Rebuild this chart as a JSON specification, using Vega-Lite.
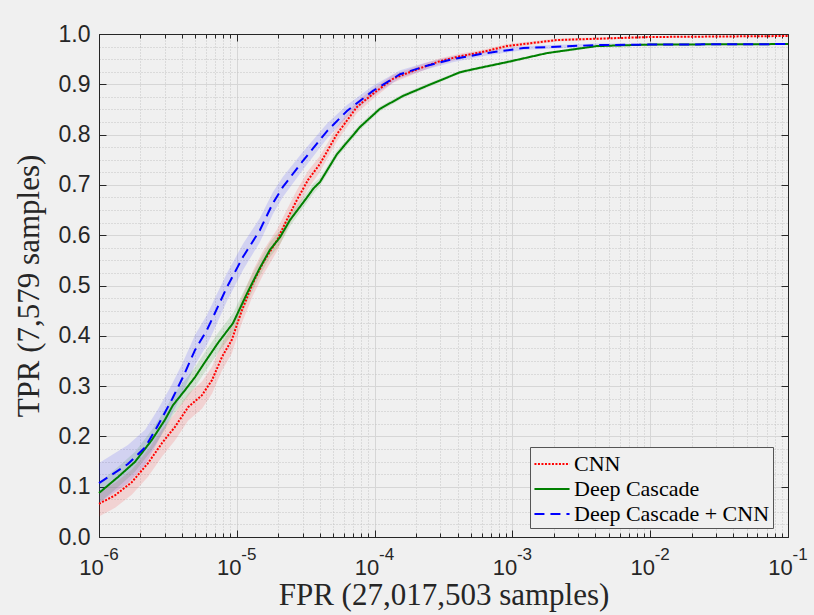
{
  "$schema": "https://vega.github.io/schema/vega-lite/v6.json",
  "width": 689,
  "height": 503,
  "autosize": {"type": "none"},
  "padding": {"left": 99, "top": 34, "right": 26, "bottom": 78},
  "background": "#f0f0f0",
  "config": {
    "view": {"stroke": null, "fill": "#f0f0f0"},
    "axis": {
      "labelFont": "Liberation Sans",
      "labelColor": "#262626",
      "tickColor": "#262626",
      "domainColor": "#262626",
      "titleFont": "Liberation Serif",
      "titleFontWeight": "normal",
      "titleColor": "#262626",
      "labelFlush": false,
      "labelOverlap": false
    }
  },
  "data": {
    "values": [
      {"series": "CNN", "fpr": 1e-6, "tpr": 0.066, "lo": 0.041, "hi": 0.091},
      {"series": "CNN", "fpr": 1.31e-6, "tpr": 0.083, "lo": 0.058, "hi": 0.108},
      {"series": "CNN", "fpr": 1.73e-6, "tpr": 0.109, "lo": 0.084, "hi": 0.134},
      {"series": "CNN", "fpr": 2.27e-6, "tpr": 0.147, "lo": 0.120, "hi": 0.174},
      {"series": "CNN", "fpr": 2.87e-6, "tpr": 0.187, "lo": 0.160, "hi": 0.214},
      {"series": "CNN", "fpr": 3.56e-6, "tpr": 0.219, "lo": 0.192, "hi": 0.246},
      {"series": "CNN", "fpr": 4.43e-6, "tpr": 0.258, "lo": 0.231, "hi": 0.285},
      {"series": "CNN", "fpr": 5.59e-6, "tpr": 0.282, "lo": 0.255, "hi": 0.309},
      {"series": "CNN", "fpr": 6.61e-6, "tpr": 0.312, "lo": 0.285, "hi": 0.339},
      {"series": "CNN", "fpr": 7.81e-6, "tpr": 0.358, "lo": 0.331, "hi": 0.385},
      {"series": "CNN", "fpr": 9.2e-6, "tpr": 0.392, "lo": 0.365, "hi": 0.419},
      {"series": "CNN", "fpr": 1.09e-5, "tpr": 0.451, "lo": 0.426, "hi": 0.476},
      {"series": "CNN", "fpr": 1.31e-5, "tpr": 0.505, "lo": 0.480, "hi": 0.530},
      {"series": "CNN", "fpr": 1.55e-5, "tpr": 0.545, "lo": 0.521, "hi": 0.569},
      {"series": "CNN", "fpr": 1.96e-5, "tpr": 0.590, "lo": 0.568, "hi": 0.612},
      {"series": "CNN", "fpr": 2.3e-5, "tpr": 0.630, "lo": 0.610, "hi": 0.650},
      {"series": "CNN", "fpr": 2.73e-5, "tpr": 0.670, "lo": 0.650, "hi": 0.690},
      {"series": "CNN", "fpr": 3.29e-5, "tpr": 0.710, "lo": 0.692, "hi": 0.728},
      {"series": "CNN", "fpr": 4.02e-5, "tpr": 0.742, "lo": 0.726, "hi": 0.758},
      {"series": "CNN", "fpr": 5.33e-5, "tpr": 0.801, "lo": 0.787, "hi": 0.815},
      {"series": "CNN", "fpr": 7.45e-5, "tpr": 0.855, "lo": 0.843, "hi": 0.867},
      {"series": "CNN", "fpr": 9.73e-5, "tpr": 0.881, "lo": 0.871, "hi": 0.891},
      {"series": "CNN", "fpr": 1.36e-4, "tpr": 0.911, "lo": 0.903, "hi": 0.919},
      {"series": "CNN", "fpr": 2.04e-4, "tpr": 0.930, "lo": 0.923, "hi": 0.937},
      {"series": "CNN", "fpr": 2.98e-4, "tpr": 0.946, "lo": 0.940, "hi": 0.952},
      {"series": "CNN", "fpr": 4.2e-4, "tpr": 0.956, "lo": 0.951, "hi": 0.961},
      {"series": "CNN", "fpr": 6.0e-4, "tpr": 0.964, "lo": 0.960, "hi": 0.968},
      {"series": "CNN", "fpr": 9.1e-4, "tpr": 0.976, "lo": 0.972, "hi": 0.980},
      {"series": "CNN", "fpr": 2.1e-3, "tpr": 0.988, "lo": 0.985, "hi": 0.991},
      {"series": "CNN", "fpr": 1e-2, "tpr": 0.994, "lo": 0.992, "hi": 0.996},
      {"series": "CNN", "fpr": 1e-1, "tpr": 0.996, "lo": 0.994, "hi": 0.998},

      {"series": "Deep Cascade", "fpr": 1e-6, "tpr": 0.0875, "lo": 0.0675, "hi": 0.1075},
      {"series": "Deep Cascade", "fpr": 1.37e-6, "tpr": 0.119, "lo": 0.099, "hi": 0.139},
      {"series": "Deep Cascade", "fpr": 1.82e-6, "tpr": 0.149, "lo": 0.129, "hi": 0.169},
      {"series": "Deep Cascade", "fpr": 2.42e-6, "tpr": 0.193, "lo": 0.173, "hi": 0.213},
      {"series": "Deep Cascade", "fpr": 3.01e-6, "tpr": 0.233, "lo": 0.213, "hi": 0.253},
      {"series": "Deep Cascade", "fpr": 3.44e-6, "tpr": 0.262, "lo": 0.242, "hi": 0.282},
      {"series": "Deep Cascade", "fpr": 4.21e-6, "tpr": 0.292, "lo": 0.272, "hi": 0.312},
      {"series": "Deep Cascade", "fpr": 4.98e-6, "tpr": 0.318, "lo": 0.298, "hi": 0.338},
      {"series": "Deep Cascade", "fpr": 5.88e-6, "tpr": 0.348, "lo": 0.328, "hi": 0.368},
      {"series": "Deep Cascade", "fpr": 7.31e-6, "tpr": 0.386, "lo": 0.366, "hi": 0.406},
      {"series": "Deep Cascade", "fpr": 9.38e-6, "tpr": 0.425, "lo": 0.405, "hi": 0.445},
      {"series": "Deep Cascade", "fpr": 1.19e-5, "tpr": 0.485, "lo": 0.467, "hi": 0.503},
      {"series": "Deep Cascade", "fpr": 1.47e-5, "tpr": 0.535, "lo": 0.519, "hi": 0.551},
      {"series": "Deep Cascade", "fpr": 1.74e-5, "tpr": 0.571, "lo": 0.556, "hi": 0.586},
      {"series": "Deep Cascade", "fpr": 2.06e-5, "tpr": 0.596, "lo": 0.582, "hi": 0.610},
      {"series": "Deep Cascade", "fpr": 2.43e-5, "tpr": 0.630, "lo": 0.618, "hi": 0.642},
      {"series": "Deep Cascade", "fpr": 3.23e-5, "tpr": 0.675, "lo": 0.665, "hi": 0.685},
      {"series": "Deep Cascade", "fpr": 3.6e-5, "tpr": 0.693, "lo": 0.683, "hi": 0.703},
      {"series": "Deep Cascade", "fpr": 4.02e-5, "tpr": 0.706, "lo": 0.698, "hi": 0.714},
      {"series": "Deep Cascade", "fpr": 5.33e-5, "tpr": 0.761, "lo": 0.754, "hi": 0.768},
      {"series": "Deep Cascade", "fpr": 7.83e-5, "tpr": 0.815, "lo": 0.809, "hi": 0.821},
      {"series": "Deep Cascade", "fpr": 1.09e-4, "tpr": 0.851, "lo": 0.846, "hi": 0.856},
      {"series": "Deep Cascade", "fpr": 1.61e-4, "tpr": 0.877, "lo": 0.873, "hi": 0.881},
      {"series": "Deep Cascade", "fpr": 2.4e-4, "tpr": 0.897, "lo": 0.893, "hi": 0.901},
      {"series": "Deep Cascade", "fpr": 4.17e-4, "tpr": 0.924, "lo": 0.921, "hi": 0.927},
      {"series": "Deep Cascade", "fpr": 5.2e-4, "tpr": 0.930, "lo": 0.927, "hi": 0.933},
      {"series": "Deep Cascade", "fpr": 9.1e-4, "tpr": 0.944, "lo": 0.941, "hi": 0.947},
      {"series": "Deep Cascade", "fpr": 1.78e-3, "tpr": 0.962, "lo": 0.960, "hi": 0.964},
      {"series": "Deep Cascade", "fpr": 4.1e-3, "tpr": 0.976, "lo": 0.974, "hi": 0.978},
      {"series": "Deep Cascade", "fpr": 1e-2, "tpr": 0.979, "lo": 0.978, "hi": 0.980},
      {"series": "Deep Cascade", "fpr": 1e-1, "tpr": 0.980, "lo": 0.979, "hi": 0.981},

      {"series": "Deep Cascade + CNN", "fpr": 1e-6, "tpr": 0.107, "lo": 0.067, "hi": 0.147},
      {"series": "Deep Cascade + CNN", "fpr": 1.62e-6, "tpr": 0.145, "lo": 0.107, "hi": 0.183},
      {"series": "Deep Cascade + CNN", "fpr": 2.16e-6, "tpr": 0.178, "lo": 0.143, "hi": 0.213},
      {"series": "Deep Cascade + CNN", "fpr": 2.68e-6, "tpr": 0.222, "lo": 0.190, "hi": 0.254},
      {"series": "Deep Cascade + CNN", "fpr": 3.39e-6, "tpr": 0.274, "lo": 0.244, "hi": 0.304},
      {"series": "Deep Cascade + CNN", "fpr": 4.07e-6, "tpr": 0.318, "lo": 0.288, "hi": 0.348},
      {"series": "Deep Cascade + CNN", "fpr": 4.98e-6, "tpr": 0.372, "lo": 0.342, "hi": 0.402},
      {"series": "Deep Cascade + CNN", "fpr": 6.08e-6, "tpr": 0.412, "lo": 0.382, "hi": 0.442},
      {"series": "Deep Cascade + CNN", "fpr": 6.72e-6, "tpr": 0.437, "lo": 0.407, "hi": 0.467},
      {"series": "Deep Cascade + CNN", "fpr": 8.49e-6, "tpr": 0.497, "lo": 0.469, "hi": 0.525},
      {"series": "Deep Cascade + CNN", "fpr": 1.11e-5, "tpr": 0.557, "lo": 0.531, "hi": 0.583},
      {"series": "Deep Cascade + CNN", "fpr": 1.47e-5, "tpr": 0.610, "lo": 0.586, "hi": 0.634},
      {"series": "Deep Cascade + CNN", "fpr": 1.83e-5, "tpr": 0.664, "lo": 0.642, "hi": 0.686},
      {"series": "Deep Cascade + CNN", "fpr": 2.16e-5, "tpr": 0.696, "lo": 0.676, "hi": 0.716},
      {"series": "Deep Cascade + CNN", "fpr": 3.02e-5, "tpr": 0.748, "lo": 0.730, "hi": 0.766},
      {"series": "Deep Cascade + CNN", "fpr": 4.52e-5, "tpr": 0.807, "lo": 0.792, "hi": 0.822},
      {"series": "Deep Cascade + CNN", "fpr": 6.3e-5, "tpr": 0.847, "lo": 0.835, "hi": 0.859},
      {"series": "Deep Cascade + CNN", "fpr": 9.73e-5, "tpr": 0.887, "lo": 0.877, "hi": 0.897},
      {"series": "Deep Cascade + CNN", "fpr": 1.53e-4, "tpr": 0.920, "lo": 0.912, "hi": 0.928},
      {"series": "Deep Cascade + CNN", "fpr": 2.4e-4, "tpr": 0.937, "lo": 0.930, "hi": 0.944},
      {"series": "Deep Cascade + CNN", "fpr": 3.7e-4, "tpr": 0.950, "lo": 0.944, "hi": 0.956},
      {"series": "Deep Cascade + CNN", "fpr": 6.1e-4, "tpr": 0.961, "lo": 0.956, "hi": 0.966},
      {"series": "Deep Cascade + CNN", "fpr": 1.2e-3, "tpr": 0.972, "lo": 0.968, "hi": 0.976},
      {"series": "Deep Cascade + CNN", "fpr": 4.1e-3, "tpr": 0.978, "lo": 0.975, "hi": 0.981},
      {"series": "Deep Cascade + CNN", "fpr": 1e-2, "tpr": 0.979, "lo": 0.977, "hi": 0.981},
      {"series": "Deep Cascade + CNN", "fpr": 1e-1, "tpr": 0.980, "lo": 0.978, "hi": 0.982}
    ]
  },
  "layer": [
    {
      "transform": [{"filter": "datum.series != 'Deep Cascade + CNN'"}],
      "mark": {"type": "area", "fillOpacity": 0.12},
      "encoding": {
        "x": {
          "field": "fpr", "type": "quantitative",
          "scale": {"type": "log", "domain": [1e-6, 0.1]},
          "axis": {
            "orient": "bottom", "title": null, "labels": false, "domain": false,
            "ticks": true, "tickSize": -4, "grid": true, "gridColor": "#c4c4c4", "gridDash": [1, 2], "gridWidth": 1,
            "values": [2e-6, 3e-6, 4e-6, 5e-6, 6e-6, 7e-6, 8e-6, 9e-6, 2e-5, 3e-5, 4e-5, 5e-5, 6e-5, 7e-5, 8e-5, 9e-5, 2e-4, 3e-4, 4e-4, 5e-4, 6e-4, 7e-4, 8e-4, 9e-4, 2e-3, 3e-3, 4e-3, 5e-3, 6e-3, 7e-3, 8e-3, 9e-3, 2e-2, 3e-2, 4e-2, 5e-2, 6e-2, 7e-2, 8e-2, 9e-2]
          }
        },
        "y": {
          "field": "lo", "type": "quantitative",
          "scale": {"domain": [0, 1]},
          "axis": {
            "orient": "left", "title": null, "labels": false, "domain": false, "ticks": false,
            "grid": true, "gridColor": "#c4c4c4", "gridDash": [1, 2], "gridWidth": 1,
            "values": [0.025, 0.05, 0.075, 0.125, 0.15, 0.175, 0.225, 0.25, 0.275, 0.325, 0.35, 0.375, 0.425, 0.45, 0.475, 0.525, 0.55, 0.575, 0.625, 0.65, 0.675, 0.725, 0.75, 0.775, 0.825, 0.85, 0.875, 0.925, 0.95, 0.975]
          }
        },
        "y2": {"field": "hi"},
        "fill": {
          "field": "series", "type": "nominal",
          "scale": {"range": ["#ff0000", "#008000", "#0000ff"]},
          "legend": null
        }
      }
    },
    {
      "transform": [{"filter": "datum.series == 'Deep Cascade + CNN'"}],
      "mark": {"type": "area", "fillOpacity": 0.12},
      "encoding": {
        "x": {
          "field": "fpr", "type": "quantitative",
          "axis": {
            "orient": "top", "title": null, "labels": false, "domain": false, "grid": false,
            "ticks": true, "tickSize": -4,
            "values": [2e-6, 3e-6, 4e-6, 5e-6, 6e-6, 7e-6, 8e-6, 9e-6, 2e-5, 3e-5, 4e-5, 5e-5, 6e-5, 7e-5, 8e-5, 9e-5, 2e-4, 3e-4, 4e-4, 5e-4, 6e-4, 7e-4, 8e-4, 9e-4, 2e-3, 3e-3, 4e-3, 5e-3, 6e-3, 7e-3, 8e-3, 9e-3, 2e-2, 3e-2, 4e-2, 5e-2, 6e-2, 7e-2, 8e-2, 9e-2]
          }
        },
        "y": {
          "field": "lo", "type": "quantitative",
          "axis": {
            "orient": "right", "title": null, "labels": false, "domain": true, "grid": false,
            "ticks": true, "tickSize": -7,
            "values": [0, 0.1, 0.2, 0.3, 0.4, 0.5, 0.6, 0.7, 0.8, 0.9, 1]
          }
        },
        "y2": {"field": "hi"},
        "fill": {"field": "series", "type": "nominal", "legend": null}
      }
    },
    {
      "transform": [{"filter": "datum.series == 'CNN'"}],
      "mark": {"type": "line", "strokeWidth": 2},
      "encoding": {
        "x": {
          "field": "fpr", "type": "quantitative",
          "axis": {
            "orient": "bottom", "title": "FPR (27,017,503 samples)", "titleFontSize": 31, "titlePadding": 2,
            "domain": true, "ticks": true, "tickSize": -7, "grid": true, "gridColor": "#d6d6d6", "gridWidth": 1,
            "labelFontSize": 22, "labelPadding": 44, "labelBaseline": "alphabetic", "labelAlign": "center", "labelOffset": -8,
            "labelExpr": "'10'",
            "values": [1e-6, 1e-5, 1e-4, 1e-3, 1e-2, 1e-1]
          }
        },
        "y": {
          "field": "tpr", "type": "quantitative",
          "axis": {
            "orient": "left", "title": "TPR (7,579 samples)", "titleFontSize": 31, "titlePadding": 13,
            "domain": true, "ticks": true, "tickSize": -7, "grid": true, "gridColor": "#d6d6d6", "gridWidth": 1,
            "labelFontSize": 23, "labelPadding": 16, "format": ".1f",
            "values": [0, 0.1, 0.2, 0.3, 0.4, 0.5, 0.6, 0.7, 0.8, 0.9, 1]
          }
        },
        "color": {
          "field": "series", "type": "nominal",
          "scale": {"domain": ["CNN", "Deep Cascade", "Deep Cascade + CNN"], "range": ["#ff0000", "#008000", "#0000ff"]},
          "legend": {
            "title": null, "orient": "none", "legendX": 431, "legendY": 413,
            "labelFont": "Liberation Serif", "labelFontSize": 22, "labelColor": "#000000", "labelLimit": 400, "labelOffset": 8,
            "symbolType": "M-1.35,0H1.35", "symbolSize": 676, "symbolStrokeWidth": 2, "symbolOffset": 5,
            "strokeColor": "#555555", "fillColor": "#f0f0f0", "padding": 3, "rowPadding": 0
          }
        },
        "strokeDash": {
          "field": "series", "type": "nominal",
          "scale": {"domain": ["CNN", "Deep Cascade", "Deep Cascade + CNN"], "range": [[2, 1.5], [1, 0], [10, 6]]},
          "legend": {
            "title": null, "orient": "none", "legendX": 431, "legendY": 413,
            "labelFont": "Liberation Serif", "labelFontSize": 22, "labelColor": "#000000", "labelLimit": 400, "labelOffset": 8,
            "symbolType": "M-1.35,0H1.35", "symbolSize": 676, "symbolStrokeWidth": 2, "symbolOffset": 5,
            "strokeColor": "#555555", "fillColor": "#f0f0f0", "padding": 3, "rowPadding": 0
          }
        }
      }
    },
    {
      "transform": [{"filter": "datum.series == 'Deep Cascade'"}],
      "mark": {"type": "line", "strokeWidth": 2},
      "encoding": {
        "x": {
          "field": "fpr", "type": "quantitative",
          "axis": {
            "orient": "bottom", "title": null, "domain": false, "ticks": false, "grid": false,
            "labelFontSize": 17, "labelPadding": 22, "labelBaseline": "alphabetic", "labelAlign": "left", "labelOffset": 4,
            "labelExpr": "'-' + round(-log(datum.value)/LN10)",
            "values": [1e-6, 1e-5, 1e-4, 1e-3, 1e-2, 1e-1]
          }
        },
        "y": {"field": "tpr", "type": "quantitative", "axis": null},
        "color": {"field": "series", "type": "nominal"},
        "strokeDash": {"field": "series", "type": "nominal"}
      }
    },
    {
      "transform": [{"filter": "datum.series == 'Deep Cascade + CNN'"}],
      "mark": {"type": "line", "strokeWidth": 2},
      "encoding": {
        "x": {
          "field": "fpr", "type": "quantitative",
          "axis": {
            "orient": "top", "title": null, "labels": false, "domain": true, "grid": false,
            "ticks": true, "tickSize": -7,
            "values": [1e-6, 1e-5, 1e-4, 1e-3, 1e-2, 1e-1]
          }
        },
        "y": {"field": "tpr", "type": "quantitative", "axis": null},
        "color": {"field": "series", "type": "nominal"},
        "strokeDash": {"field": "series", "type": "nominal"}
      }
    }
  ],
  "resolve": {"axis": {"x": "independent", "y": "independent"}}
}
